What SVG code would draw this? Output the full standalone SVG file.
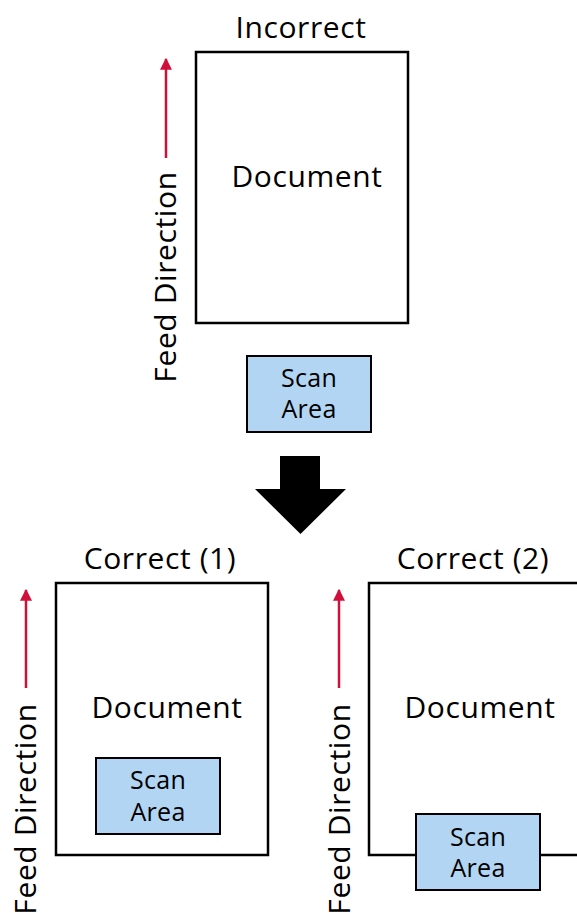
<svg xmlns="http://www.w3.org/2000/svg" width="577" height="913" viewBox="0 0 577 913">
<defs>
<style>
.t{font-family:"Open Sans","Noto Sans","Liberation Sans",sans-serif;fill:#000;text-anchor:middle}
.big{font-size:30px;letter-spacing:0.6px}
.sm{font-size:25px;letter-spacing:0.3px}
.doc{fill:#fff;stroke:#000;stroke-width:2.5}
.scan{fill:#b1d5f2;stroke:#000;stroke-width:2}
.feed{stroke:#d0103a;stroke-width:2.5;fill:none}
</style>
<marker id="ah" viewBox="0 0 10 10" refX="9" refY="5" markerWidth="12" markerHeight="14" markerUnits="userSpaceOnUse" orient="auto">
<path d="M0,0 L10,5 L0,10 Z" fill="#d0103a"/>
</marker>
</defs>
<rect width="577" height="913" fill="#fff"/>

<g id="incorrect">
<text class="t big" x="301" y="38">Incorrect</text>
<rect class="doc" x="196" y="52" width="212" height="271"/>
<text class="t big" x="307" y="187">Document</text>
</g>
<g id="scan-top">
<rect class="scan" x="247" y="356" width="124" height="76"/>
<text class="t sm" x="309" y="387">Scan</text>
<text class="t sm" x="309" y="418">Area</text>
</g>
<g id="feed-top">
<text class="t big" transform="translate(176,277) rotate(-90)">Feed Direction</text>
</g>

<g id="big-arrow">
<path d="M280,456 H320 V489 H346 L300.5,534 L255,489 H280 Z" fill="#000"/>
</g>

<g id="correct1">
<text class="t big" x="160" y="569">Correct (1)</text>
<rect class="doc" x="56" y="583" width="212" height="272"/>
<text class="t big" x="167" y="718">Document</text>
</g>
<g id="scan-c1">
<rect class="scan" x="96" y="758" width="124" height="76"/>
<text class="t sm" x="158" y="789">Scan</text>
<text class="t sm" x="158" y="821">Area</text>
</g>
<g id="feed-c1">
<text class="t big" transform="translate(36,809) rotate(-90)">Feed Direction</text>
</g>

<g id="correct2">
<text class="t big" x="473" y="569">Correct (2)</text>
<path class="doc" d="M580,583 H369 V855 H580"/>
<text class="t big" x="480" y="718">Document</text>
</g>
<g id="scan-c2">
<rect class="scan" x="416" y="814" width="124" height="76"/>
<text class="t sm" x="478" y="846">Scan</text>
<text class="t sm" x="478" y="877">Area</text>
</g>
<g id="feed-c2">
<text class="t big" transform="translate(350,809) rotate(-90)">Feed Direction</text>
</g>

<g id="connectors">
<line class="feed" x1="166" y1="158" x2="166" y2="59" marker-end="url(#ah)"/>
<line class="feed" x1="26" y1="688" x2="26" y2="590" marker-end="url(#ah)"/>
<line class="feed" x1="339" y1="688" x2="339" y2="590" marker-end="url(#ah)"/>
</g>
</svg>
